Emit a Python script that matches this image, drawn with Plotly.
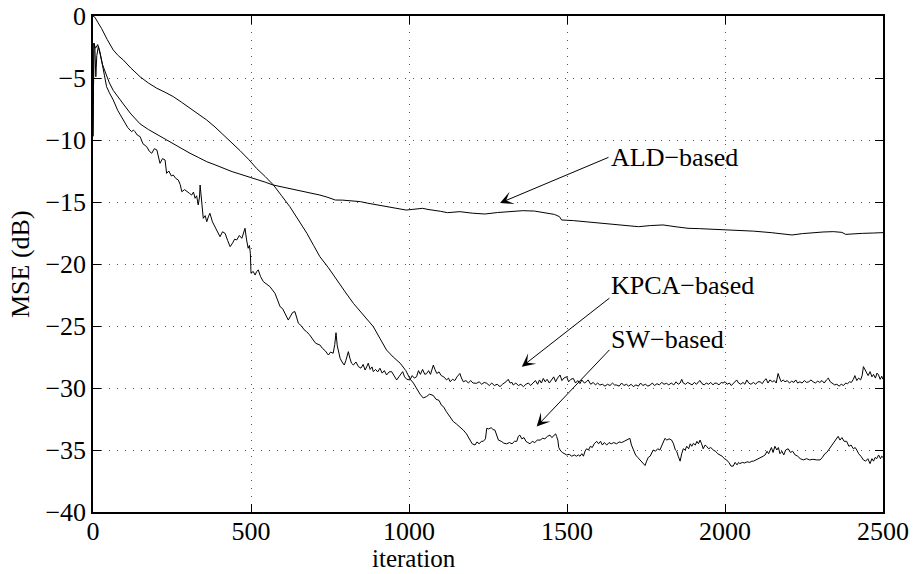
import plotly.graph_objects as go

# MSE learning curves (dB) against iteration for three kernel dictionary methods

SW_ITER = [0, 6, 15, 27, 45, 64, 80, 96, 120, 149, 175, 202, 228, 254, 280, 307, 333, 360, 386, 413,
           440, 465, 492, 518, 545, 571, 597, 623, 650, 677, 698, 718, 745, 771, 798, 824, 855, 887, 908, 929,
           950, 972, 990, 1004, 1014, 1025, 1035, 1045, 1055, 1065, 1077, 1085, 1095, 1103, 1109, 1118, 1128, 1140, 1150, 1160,
           1172, 1182, 1193, 1200, 1209, 1215, 1222, 1229, 1235, 1242, 1246, 1252, 1260, 1266, 1272, 1278, 1283, 1292, 1300, 1309,
           1318, 1326, 1334, 1341, 1346, 1351, 1357, 1364, 1370, 1376, 1383, 1390, 1398, 1406, 1415, 1423, 1430, 1438, 1446, 1452,
           1458, 1464, 1467, 1471, 1474, 1478, 1485, 1492, 1499, 1507, 1515, 1523, 1530, 1536, 1541, 1547, 1552, 1557, 1562, 1568,
           1574, 1580, 1586, 1594, 1600, 1606, 1612, 1618, 1626, 1633, 1640, 1648, 1657, 1665, 1673, 1681, 1689, 1695, 1699, 1704,
           1710, 1717, 1724, 1731, 1737, 1742, 1747, 1752, 1757, 1763, 1768, 1773, 1780, 1787, 1794, 1800, 1806, 1810, 1816, 1823,
           1831, 1837, 1843, 1847, 1852, 1858, 1863, 1868, 1874, 1879, 1885, 1890, 1895, 1900, 1906, 1911, 1916, 1921, 1926, 1931,
           1937, 1942, 1948, 1955, 1963, 1970, 1977, 1984, 1991, 1998, 2005, 2012, 2019, 2026, 2032, 2038, 2043, 2047, 2055, 2062,
           2070, 2078, 2085, 2090, 2098, 2105, 2113, 2121, 2127, 2133, 2138, 2142, 2147, 2152, 2158, 2164, 2169, 2174, 2180, 2186,
           2192, 2200, 2207, 2214, 2222, 2230, 2238, 2248, 2258, 2268, 2278, 2290, 2301, 2308, 2316, 2322, 2330, 2337, 2343, 2349,
           2354, 2358, 2364, 2370, 2377, 2385, 2392, 2399, 2406, 2412, 2417, 2423, 2430, 2438, 2445, 2452, 2459, 2465, 2470, 2475,
           2480, 2486, 2492, 2496, 2500]
SW_MSE = [0.0, -0.1, -0.5, -1.0, -1.9, -2.74, -3.2, -3.55, -4.2, -4.9, -5.4, -5.83, -6.15, -6.5, -6.95, -7.45, -7.9, -8.39, -8.95, -9.6,
          -10.2, -10.85, -11.55, -12.3, -12.95, -13.63, -14.5, -15.38, -16.45, -17.53, -18.5, -19.41, -20.3, -21.29, -22.25, -23.17, -24.1, -25.05, -26.0, -26.94,
          -27.5, -28.0, -28.6, -29.3, -29.6, -30.1, -30.5, -30.8, -30.7, -30.5, -30.6, -30.9, -31.0, -31.4, -31.5, -31.9, -32.3, -32.7, -32.9, -33.1,
          -33.4, -33.7, -34.2, -34.5, -34.6, -34.35, -34.5, -34.3, -34.3, -34.1, -33.25, -33.3, -33.2, -33.35, -33.4, -33.8, -34.2, -34.3, -34.45, -34.5,
          -34.4, -34.5, -34.3, -34.3, -33.9, -33.8, -34.1, -34.0, -34.3, -34.4, -34.5, -34.3, -34.4, -34.2, -34.2, -34.05, -34.1, -33.9, -33.8, -34.0,
          -33.85, -33.7, -33.9, -34.2, -34.8, -35.0, -35.2, -35.3, -35.4, -35.35, -35.5, -35.4, -35.5, -35.4, -35.5, -35.3, -35.5, -35.1, -34.9, -35.0,
          -34.7, -34.8, -34.5, -34.3, -34.5, -34.3, -34.6, -34.4, -34.6, -34.4, -34.5, -34.4, -34.5, -34.35, -34.4, -34.3, -34.2, -34.1, -34.06, -34.6,
          -35.0, -35.4, -35.6, -35.8, -35.9, -36.1, -36.25, -35.9, -35.6, -35.5, -35.2, -35.0, -35.1, -34.9, -35.0, -34.6, -34.3, -34.06, -34.2, -34.1,
          -34.2, -34.5, -35.0, -35.1, -35.5, -35.9, -35.3, -34.9, -35.0, -34.7, -34.9, -34.5, -34.7, -34.46, -34.6, -34.3, -34.5, -34.2, -34.5, -34.9,
          -34.6, -34.7, -34.9, -34.8, -35.0, -35.1, -35.3, -35.4, -35.5, -35.7, -35.8, -36.0, -36.3, -36.3, -36.0, -36.2, -36.0, -36.1, -36.0, -36.05,
          -35.95, -36.0, -35.9, -35.9, -35.8, -35.75, -35.6, -35.5, -35.4, -35.1, -35.3, -35.0, -34.8, -35.2, -34.7, -35.0, -34.8, -35.3, -35.1, -35.4,
          -35.0, -34.9, -35.2, -35.1, -35.4, -35.5, -35.7, -35.8, -35.7, -35.8, -35.75, -35.8, -35.8, -35.6, -35.3, -35.2, -34.9, -34.7, -34.5, -34.2,
          -34.0, -33.9, -34.2, -34.0, -34.3, -34.3, -34.7, -34.6, -34.9, -34.8, -35.0, -35.3, -35.5, -35.8, -35.9, -35.7, -36.1, -35.7, -35.9, -35.6,
          -35.7, -35.4, -35.7, -35.5, -35.6]

ALD_ITER = [0, 3, 8, 15, 22, 30, 40, 52, 64, 80, 96, 120, 149, 175, 202, 228, 254, 280, 307, 333,
            360, 386, 413, 440, 465, 492, 518, 545, 570, 600, 634, 655, 676, 698, 718, 740, 767, 790, 815, 846,
            870, 900, 925, 950, 972, 991, 1010, 1030, 1043, 1060, 1082, 1100, 1122, 1140, 1161, 1200, 1240, 1280, 1319, 1360,
            1397, 1420, 1437, 1460, 1476, 1483, 1520, 1555, 1600, 1647, 1690, 1726, 1765, 1804, 1845, 1883, 1920, 1949, 2000, 2041,
            2090, 2146, 2180, 2212, 2245, 2277, 2310, 2343, 2370, 2382, 2410, 2435, 2470, 2500]
ALD_MSE = [-9.7, -2.2, -2.6, -2.3, -3.0, -3.9, -4.6, -5.4, -6.0, -6.6, -7.1, -7.9, -8.7, -9.15, -9.55, -9.95, -10.3, -10.7, -11.07, -11.4,
           -11.75, -12.0, -12.28, -12.55, -12.75, -12.95, -13.15, -13.4, -13.63, -13.8, -13.95, -14.05, -14.17, -14.3, -14.44, -14.6, -14.84, -14.85, -14.9, -14.97,
           -15.1, -15.25, -15.38, -15.5, -15.6, -15.65, -15.6, -15.55, -15.51, -15.6, -15.65, -15.75, -15.86, -15.85, -15.78, -15.9, -15.97, -15.85, -15.78, -15.7,
           -15.73, -15.85, -15.91, -16.0, -16.18, -16.45, -16.5, -16.59, -16.7, -16.77, -16.9, -16.99, -16.9, -16.85, -17.0, -17.12, -17.15, -17.18, -17.22, -17.26,
           -17.35, -17.47, -17.55, -17.66, -17.55, -17.47, -17.42, -17.39, -17.45, -17.61, -17.55, -17.53, -17.5, -17.47]

KPCA_ITER = [0, 3, 6, 9, 12, 17, 22, 27, 35, 43, 52, 64, 78, 96, 110, 122, 128, 133, 140, 149,
             158, 170, 178, 186, 194, 202, 208, 212, 220, 228, 233, 240, 248, 254, 262, 270, 276, 281, 290, 297,
             305, 312, 318, 323, 328, 333, 337, 339, 342, 344, 349, 355, 360, 365, 370, 378, 386, 394, 402, 410,
             418, 426, 434, 442, 448, 455, 463, 471, 476, 481, 486, 491, 495, 498, 500, 507, 513, 518, 523, 530,
             539, 548, 560, 568, 576, 584, 592, 600, 608, 618, 625, 632, 639, 645, 650, 660, 668, 676, 685, 697,
             705, 718, 726, 735, 745, 752, 760, 765, 769, 773, 778, 782, 788, 795, 800, 804, 808, 813, 818, 824,
             832, 840, 848, 855, 861, 866, 871, 877, 883, 887, 894, 901, 908, 915, 922, 929, 937, 945, 952, 961,
             968, 975, 980, 986, 993, 1003, 1010, 1017, 1024, 1030, 1036, 1043, 1050, 1056, 1062, 1068, 1073, 1077, 1082, 1088,
             1095, 1102, 1110, 1119, 1125, 1130, 1138, 1145, 1152, 1158, 1161, 1166, 1172, 1180, 1188, 1195, 1203, 1214, 1222, 1230,
             1238, 1246, 1254, 1262, 1270, 1279, 1288, 1296, 1303, 1309, 1314, 1320, 1326, 1330, 1338, 1346, 1354, 1362, 1370, 1378,
             1385, 1393, 1400, 1407, 1413, 1419, 1425, 1431, 1437, 1444, 1452, 1458, 1464, 1470, 1478, 1484, 1490, 1499, 1505, 1512,
             1520, 1527, 1534, 1541, 1547, 1555, 1561, 1567, 1575, 1583, 1590, 1597, 1604, 1612, 1620, 1628, 1636, 1644, 1650, 1657,
             1665, 1673, 1680, 1688, 1695, 1703, 1710, 1718, 1726, 1733, 1740, 1748, 1756, 1763, 1770, 1777, 1785, 1792, 1800, 1807,
             1815, 1822, 1830, 1838, 1845, 1852, 1858, 1863, 1868, 1875, 1882, 1889, 1896, 1903, 1910, 1916, 1921, 1927, 1934, 1941,
             1948, 1955, 1962, 1968, 1974, 1981, 1988, 1994, 2000, 2007, 2014, 2020, 2026, 2032, 2037, 2043, 2050, 2057, 2063, 2069,
             2075, 2082, 2090, 2097, 2104, 2111, 2118, 2124, 2130, 2136, 2142, 2150, 2156, 2162, 2168, 2173, 2178, 2184, 2190, 2197,
             2204, 2211, 2218, 2224, 2230, 2237, 2244, 2251, 2258, 2265, 2272, 2279, 2286, 2293, 2300, 2307, 2314, 2321, 2327, 2333,
             2340, 2347, 2354, 2361, 2368, 2375, 2382, 2388, 2394, 2400, 2406, 2411, 2417, 2423, 2429, 2434, 2438, 2443, 2448, 2453,
             2459, 2465, 2470, 2476, 2481, 2486, 2491, 2496, 2500]
KPCA_MSE = [-9.7, -2.2, -2.6, -4.9, -3.2, -2.45, -2.9, -3.55, -4.6, -5.7, -6.2, -6.77, -7.6, -8.39, -9.0, -9.33, -9.2, -9.33, -9.6, -9.73,
            -10.3, -10.54, -10.9, -11.07, -10.7, -10.8, -11.5, -11.88, -11.5, -11.61, -12.69, -12.5, -12.9, -12.82, -13.1, -13.23, -13.6, -14.17, -14.0, -14.17,
            -14.3, -14.44, -14.2, -14.7, -14.5, -15.24, -14.6, -13.63, -14.5, -14.84, -16.32, -16.1, -16.59, -16.2, -15.91, -16.6, -16.99, -17.3, -17.8, -17.4,
            -17.53, -18.1, -18.6, -18.3, -18.0, -18.06, -17.7, -17.93, -17.6, -17.12, -18.06, -18.73, -18.5, -19.14, -20.75, -20.6, -20.89, -20.6, -20.48, -21.0,
            -21.42, -21.6, -21.83, -22.1, -22.37, -22.9, -23.44, -23.6, -24.0, -24.52, -24.2, -23.9, -23.84, -24.4, -24.78, -25.0, -25.3, -25.46, -25.7, -26.13,
            -26.4, -26.53, -26.8, -27.0, -27.34, -27.1, -27.2, -26.5, -25.54, -26.6, -27.3, -27.6, -27.9, -28.15, -27.8, -27.4, -27.07, -27.6, -28.0, -28.15,
            -27.9, -28.28, -28.4, -28.1, -28.55, -28.3, -28.0, -28.5, -28.3, -28.68, -28.5, -28.7, -28.41, -28.8, -28.6, -28.95, -28.7, -28.68, -29.0, -29.35,
            -29.1, -28.9, -28.68, -29.1, -29.3, -29.35, -29.0, -29.2, -29.09, -28.6, -28.9, -28.5, -28.9, -28.83, -28.6, -28.9, -28.4, -28.15, -28.5, -28.83,
            -28.7, -29.0, -29.1, -29.35, -29.2, -29.49, -29.3, -29.4, -29.1, -28.9, -28.83, -29.2, -29.5, -29.4, -29.6, -29.4, -29.6, -29.62, -29.5, -29.7,
            -29.55, -29.62, -29.8, -29.6, -29.8, -29.7, -29.89, -29.7, -29.6, -29.45, -29.3, -29.6, -29.55, -29.76, -29.6, -29.8, -29.7, -29.89, -29.7, -29.6,
            -29.8, -29.62, -29.4, -29.7, -29.35, -29.6, -29.23, -29.5, -29.3, -29.6, -29.35, -29.1, -29.5, -29.2, -28.95, -29.4, -29.2, -29.09, -29.5, -29.3,
            -29.23, -29.6, -29.4, -29.65, -29.35, -29.6, -29.5, -29.35, -29.7, -29.55, -29.75, -29.6, -29.76, -29.7, -29.85, -29.7, -29.8, -29.6, -29.75, -29.76,
            -29.85, -29.6, -29.8, -29.7, -29.85, -29.7, -29.89, -29.75, -29.85, -29.6, -29.8, -29.7, -29.85, -29.76, -29.6, -29.8, -29.65, -29.75, -29.55, -29.7,
            -29.62, -29.75, -29.6, -29.75, -29.5, -29.7, -29.6, -29.3, -29.6, -29.7, -29.55, -29.62, -29.75, -29.55, -29.7, -29.5, -29.4, -29.65, -29.75, -29.6,
            -29.7, -29.55, -29.75, -29.6, -29.62, -29.75, -29.55, -29.6, -29.49, -29.7, -29.6, -29.8, -29.62, -29.5, -29.35, -29.6, -29.7, -29.55, -29.7, -29.35,
            -29.6, -29.7, -29.55, -29.7, -29.5, -29.5, -29.65, -29.4, -29.25, -29.6, -29.35, -29.5, -29.4, -29.6, -28.83, -29.2, -29.5, -29.35, -29.5, -29.4,
            -29.6, -29.45, -29.55, -29.35, -29.6, -29.5, -29.6, -29.4, -29.55, -29.5, -29.35, -29.5, -29.6, -29.45, -29.55, -29.4, -29.6, -29.35, -29.2, -29.5,
            -29.6, -29.75, -29.7, -29.85, -29.7, -29.8, -29.6, -29.65, -29.5, -29.55, -29.3, -29.0, -29.4, -29.2, -29.35, -29.0, -28.28, -28.5, -28.7, -29.0,
            -28.68, -29.1, -28.9, -29.2, -28.8, -28.95, -29.3, -29.05, -29.3]

X_TICKS = [0, 500, 1000, 1500, 2000, 2500]
Y_TICKS = [0, -5, -10, -15, -20, -25, -30, -35, -40]

# labels: (text, label anchor x, label y, arrow tail x, tail y, arrow head x, head y)
LABELS = [
    ("ALD\u2212based", 1633, -11.45, 1636, -11.35, 1288, -15.08),
    ("KPCA\u2212based", 1633, -21.72, 1639, -22.66, 1357, -28.28),
    ("SW\u2212based", 1633, -26.05, 1639, -26.8, 1404, -33.1),
]

FONT = "Liberation Serif, Times New Roman, Times, serif"

fig = go.Figure()
for it, mse, name in [(SW_ITER, SW_MSE, "SW-based"),
                      (ALD_ITER, ALD_MSE, "ALD-based"),
                      (KPCA_ITER, KPCA_MSE, "KPCA-based")]:
    fig.add_trace(go.Scatter(x=it, y=mse, mode="lines", name=name,
                             line=dict(color="black", width=1)))

for text, tx, ty, ax, ay, hx, hy in LABELS:
    fig.add_annotation(x=hx, y=hy, ax=ax, ay=ay, xref="x", yref="y",
                       axref="x", ayref="y", text="", showarrow=True,
                       arrowhead=3, arrowsize=2.2, arrowwidth=1,
                       arrowcolor="black")
    fig.add_annotation(x=tx, y=ty, xref="x", yref="y", text=text,
                       showarrow=False, xanchor="left", yanchor="middle",
                       font=dict(family=FONT, size=26, color="black"))

# axis titles
fig.add_annotation(x=1016, y=-0.123, xref="x", yref="paper", text="iteration",
                   showarrow=False, xanchor="center", yanchor="bottom",
                   borderpad=0,
                   font=dict(family=FONT, size=25, color="black"))
fig.add_annotation(x=-0.0924, y=-20, xref="paper", yref="y", text="MSE (dB)",
                   textangle=-90, showarrow=False, xanchor="center", yanchor="middle",
                   font=dict(family=FONT, size=26, color="black"))

axis_common = dict(
    showline=True, linecolor="black", linewidth=1.5, mirror="ticks",
    ticks="inside", ticklen=8, tickwidth=1, tickcolor="black",
    showgrid=True, gridcolor="#555555", gridwidth=1, griddash="1px,7px",
    zeroline=False, tickfont=dict(family=FONT, size=26, color="black"),
)

fig.update_xaxes(range=[0, 2500], tickvals=X_TICKS, ticktext=[str(v) for v in X_TICKS],
                 ticklabelstandoff=-5, **axis_common)
fig.update_yaxes(range=[-40, 0], tickvals=Y_TICKS,
                 ticktext=[("\u2212" + str(-v)) if v < 0 else str(v) for v in Y_TICKS],
                 **axis_common)

fig.update_layout(width=917, height=574,
                  margin=dict(l=93, r=34, t=16, b=62, autoexpand=False),
                  plot_bgcolor="white", paper_bgcolor="white",
                  showlegend=False, font=dict(family=FONT, color="black"))

fig.write_html("out.html")
